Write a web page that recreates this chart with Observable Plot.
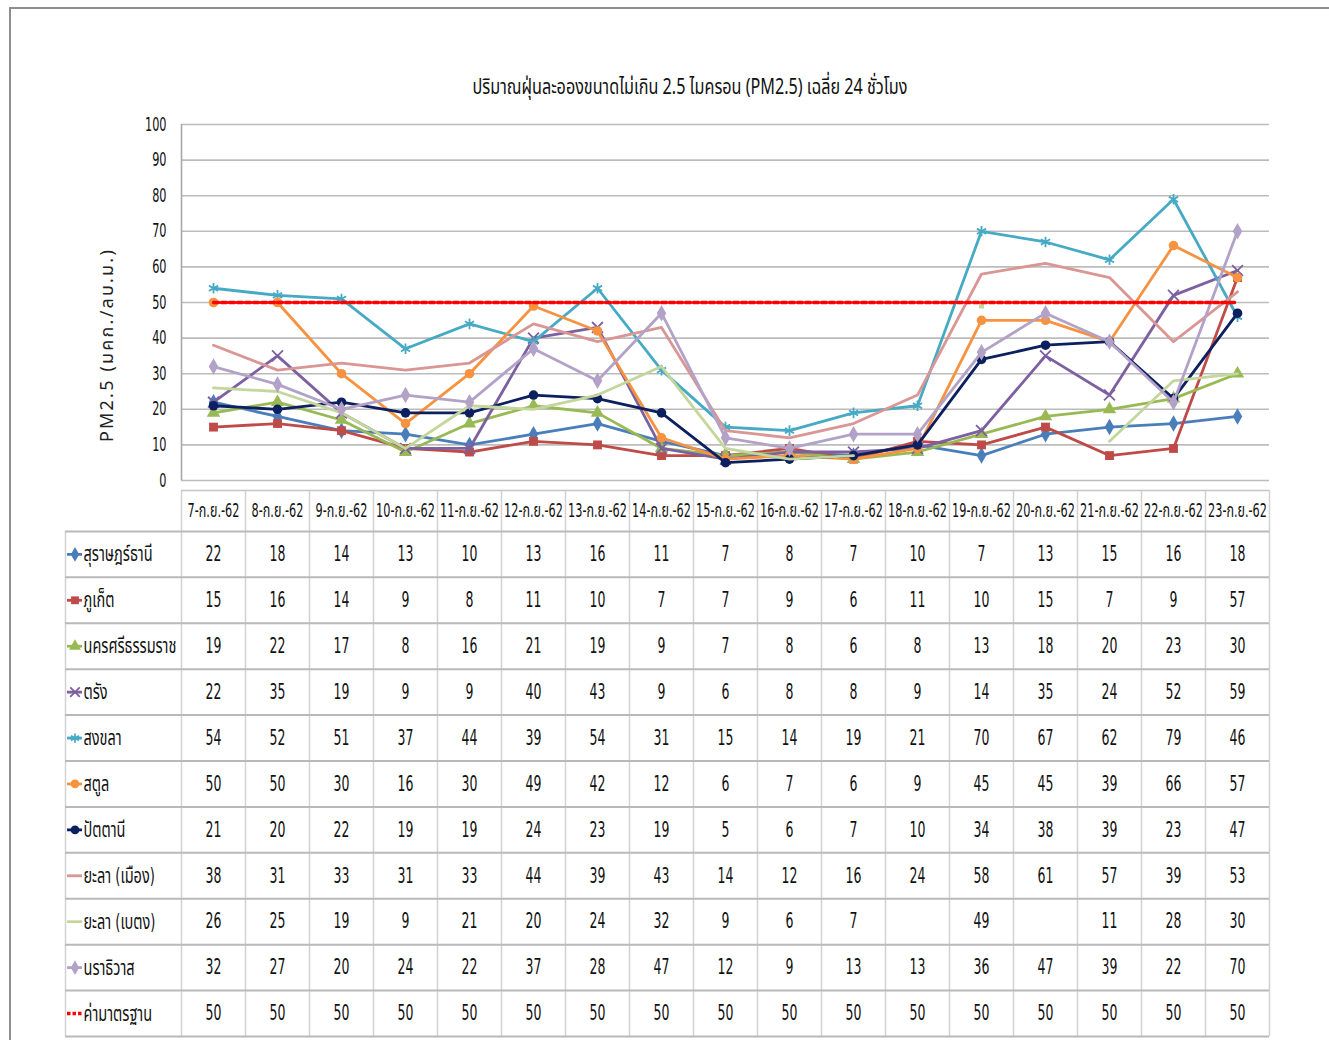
<!DOCTYPE html>
<html><head><meta charset="utf-8">
<script src="https://cdn.jsdelivr.net/npm/d3@7"></script>
<script src="https://cdn.jsdelivr.net/npm/@observablehq/plot@0.6"></script>
<style>
body{margin:0;background:#fff;}
#wrap{position:relative;width:1329px;height:1040px;overflow:hidden;background:#fff;font-family:"Noto Sans Thai","Noto Sans","DejaVu Sans",sans-serif;}
#frame{position:absolute;left:9px;top:7px;width:1340px;height:1050px;border-left:2px solid #8e8e8e;border-top:2px solid #8e8e8e;}
#title{position:absolute;left:0;top:71px;width:1380px;text-align:center;font-size:22px;color:#111;transform:scaleX(0.735);transform-origin:690px 0;white-space:nowrap;}
#ylab{position:absolute;left:107px;top:345px;font-size:18px;letter-spacing:2.2px;color:#222;white-space:nowrap;transform:translate(-50%,-50%) rotate(-90deg);}
.plotbox{position:absolute;left:0;}
</style></head>
<body><div id="wrap"><div id="frame"></div>
<div id="title">ปริมาณฝุ่นละอองขนาดไม่เกิน 2.5 ไมครอน (PM2.5) เฉลี่ย 24 ชั่วโมง</div>
<div id="ylab">PM2.5 (มคก./ลบ.ม.)</div>
<div id="chart" class="plotbox" style="top:0"></div>
<div id="table" class="plotbox" style="top:490px"></div>
</div>
<script>
const dates = ["7-ก.ย.-62","8-ก.ย.-62","9-ก.ย.-62","10-ก.ย.-62","11-ก.ย.-62","12-ก.ย.-62","13-ก.ย.-62","14-ก.ย.-62","15-ก.ย.-62","16-ก.ย.-62","17-ก.ย.-62","18-ก.ย.-62","19-ก.ย.-62","20-ก.ย.-62","21-ก.ย.-62","22-ก.ย.-62","23-ก.ย.-62"];
const seriesNames = ["สุราษฎร์ธานี","ภูเก็ต","นครศรีธรรมราช","ตรัง","สงขลา","สตูล","ปัตตานี","ยะลา (เมือง)","ยะลา (เบตง)","นราธิวาส","ค่ามาตรฐาน"];
const surat      = [22,18,14,13,10,13,16,11,7,8,7,10,7,13,15,16,18];
const phuket     = [15,16,14,9,8,11,10,7,7,9,6,11,10,15,7,9,57];
const nakhon     = [19,22,17,8,16,21,19,9,7,8,6,8,13,18,20,23,30];
const trang      = [22,35,19,9,9,40,43,9,6,8,8,9,14,35,24,52,59];
const songkhla   = [54,52,51,37,44,39,54,31,15,14,19,21,70,67,62,79,46];
const satun      = [50,50,30,16,30,49,42,12,6,7,6,9,45,45,39,66,57];
const pattani    = [21,20,22,19,19,24,23,19,5,6,7,10,34,38,39,23,47];
const yalaMueang = [38,31,33,31,33,44,39,43,14,12,16,24,58,61,57,39,53];
const yalaBetong = [26,25,19,9,21,20,24,32,9,6,7,null,49,null,11,28,30];
const narathiwat = [32,27,20,24,22,37,28,47,12,9,13,13,36,47,39,22,70];
const standard   = [50,50,50,50,50,50,50,50,50,50,50,50,50,50,50,50,50];
const yTicks = [0,10,20,30,40,50,60,70,80,90,100];

const seriesValues = [surat,phuket,nakhon,trang,songkhla,satun,pattani,yalaMueang,yalaBetong,narathiwat,standard];
// styles (kept separate from data)
const styles = [
  {color:"#4a7ebb", symbol:"diamond"},
  {color:"#be4b48", symbol:"square"},
  {color:"#98b954", symbol:"triangle"},
  {color:"#7d60a0", symbol:"times"},
  {color:"#46aac5", symbol:"asterisk"},
  {color:"#f69240", symbol:"circle"},
  {color:"#0c1f5e", symbol:"circle"},
  {color:"#d99694", symbol:null},
  {color:"#c3d69b", symbol:null, isolated:"square"},
  {color:"#b3a2c7", symbol:"diamond"},
  {color:"#ff0000", symbol:null, dash:"5,3"}
];
const strokeSyms = new Set(["times","asterisk","plus","cross"]);

const W = 1329, mL = 181, mR = 60;
const numFont = '"Liberation Sans Narrow","DejaVu Sans Condensed","Noto Sans Thai","Noto Sans",sans-serif';

function condense(svg, s) {
  d3.select(svg).selectAll("text").each(function() {
    const x = parseFloat(this.getAttribute("x")) || 0;
    const t = this.getAttribute("transform") || "";
    this.setAttribute("transform", `${t} translate(${x},0) scale(${s},1) translate(${-x},0)`);
  });
}

// ---------- chart ----------
const marks = [];
marks.push(Plot.ruleY(yTicks, {stroke:"#bcbcbc", strokeWidth:1.6}));
marks.push(Plot.ruleX([dates[0]], {dx:-32, stroke:"#a8a8a8", strokeWidth:1.6}));
seriesValues.forEach((vals, k) => {
  const st = styles[k];
  const rows = vals.map((v, i) => ({date: dates[i], value: v == null ? NaN : v, prev: vals[i-1], next: vals[i+1]}));
  marks.push(Plot.line(rows, {x:"date", y:"value", stroke:st.color, strokeWidth: k === 10 ? 3.4 : 2.8,
    strokeDasharray: st.dash, strokeLinejoin:"round"}));
  if (st.symbol) {
    const stroked = strokeSyms.has(st.symbol);
    marks.push(Plot.dot(rows.filter(d => !isNaN(d.value)), {x:"date", y:"value", symbol:st.symbol,
      r: st.symbol === "circle" ? 4.8 : 5,
      fill: stroked ? "none" : st.color, stroke: stroked ? st.color : "none", strokeWidth: 1.8}));
  }
  if (st.isolated) {
    marks.push(Plot.dot(rows.filter(d => !isNaN(d.value) && d.prev == null && d.next == null),
      {x:"date", y:"value", symbol:st.isolated, r:2.8, fill:st.color}));
  }
});

const chart = Plot.plot({
  width: W, height: 500,
  marginTop: 124, marginBottom: 20, marginLeft: mL, marginRight: mR,
  style: {fontFamily: numFont, fontSize: "19px", color:"#111", background:"transparent", overflow:"visible"},
  x: {type:"band", domain: dates, padding: 0, axis: null},
  y: {domain:[0,100], ticks: yTicks, tickSize: 0, tickPadding: 15, label: null, tickFormat: d => String(d)},
  marks
});
condense(chart, 0.66);
document.getElementById("chart").appendChild(chart);

// ---------- data table ----------
const nCols = dates.length, nRows = seriesNames.length;
const legendW = 116/64;
const headerH = 41/46;
const colIdx = d3.range(nCols + 1);
const rowIdx = d3.range(nRows + 1);
const cells = [];
seriesValues.forEach((vals, k) => vals.forEach((v, i) => { if (v != null) cells.push({i, k, v}); }));

const tmarks = [];
tmarks.push(Plot.ruleX(colIdx, {x: d => d, y1: -headerH, y2: nRows, stroke:"#d2d2d2", strokeWidth:1.5}));
tmarks.push(Plot.ruleX([-legendW], {x: d => d, y1: 0, y2: nRows, stroke:"#d2d2d2", strokeWidth:1.5}));
tmarks.push(Plot.ruleY([-headerH], {y: d => d, x1: 0, x2: nCols, stroke:"#c4c4c4", strokeWidth:1.5}));
tmarks.push(Plot.ruleY(rowIdx, {y: d => d, x1: -legendW, x2: nCols, stroke:"#b9b9b9", strokeWidth:2}));
tmarks.push(Plot.text(dates, {x: (d, i) => i + 0.5, y: -headerH/2, text: d => d, fontSize: 19, fill:"#111"}));
tmarks.push(Plot.text(cells, {x: d => d.i + 0.5, y: d => d.k + 0.5, text: d => String(d.v), fontSize: 21, fill:"#111"}));
tmarks.push(Plot.text(seriesNames, {x: -legendW + 18/64, y: (d, k) => k + 0.5, text: d => d, textAnchor:"start", fontSize: 22, fill:"#111"}));
seriesNames.forEach((name, k) => {
  const st = styles[k];
  tmarks.push(Plot.ruleY([k + 0.5], {y: d => d, x1: -legendW + 2/64, x2: -legendW + 17/64, stroke: st.color,
    strokeWidth: k === 10 ? 3.4 : 2.8, strokeDasharray: st.dash ? "3.5,2" : null}));
  if (st.symbol) {
    const stroked = strokeSyms.has(st.symbol);
    tmarks.push(Plot.dot([k + 0.5], {x: -legendW + 9.5/64, y: d => d, symbol: st.symbol, r: 4.4,
      fill: stroked ? "none" : st.color, stroke: stroked ? st.color : "none", strokeWidth: 1.8}));
  }
});

const table = Plot.plot({
  width: W, height: 550,
  marginTop: 0, marginBottom: 4, marginLeft: 65, marginRight: mR,
  style: {fontFamily: numFont, fontSize: "19px", color:"#111", background:"transparent", overflow:"visible"},
  x: {type:"linear", domain:[-legendW, nCols], range:[65, W - mR], axis: null},
  y: {type:"linear", domain:[-headerH, nRows], range:[0, 546], axis: null},
  marks: tmarks
});
condense(table, 0.66);
document.getElementById("table").appendChild(table);
</script>
</body></html>
